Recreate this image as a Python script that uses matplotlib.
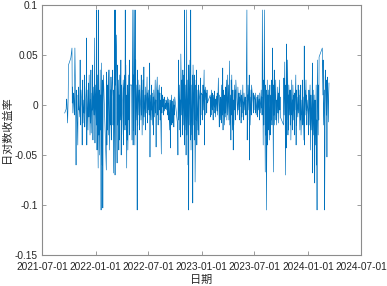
import matplotlib
matplotlib.use("Agg")
import matplotlib.pyplot as plt
import matplotlib.dates as mdates
import pandas as pd
import numpy as np

plt.rcParams['font.family'] = ['Liberation Sans', 'Noto Sans CJK SC', 'DejaVu Sans']
plt.rcParams['axes.unicode_minus'] = False

# Chinese exchange holidays (weekdays without trading)
holidays = ["2021-09-20", "2021-09-21", "2021-10-01", "2021-10-04", "2021-10-05",
            "2021-10-06", "2021-10-07", "2022-01-03", "2022-01-31", "2022-02-01",
            "2022-02-02", "2022-02-03", "2022-02-04", "2022-04-04", "2022-04-05",
            "2022-05-02", "2022-05-03", "2022-05-04", "2022-06-03", "2022-09-12",
            "2022-10-03", "2022-10-04", "2022-10-05", "2022-10-06", "2022-10-07",
            "2023-01-02", "2023-01-23", "2023-01-24", "2023-01-25", "2023-01-26",
            "2023-01-27", "2023-04-05", "2023-05-01", "2023-05-02", "2023-05-03",
            "2023-06-22", "2023-06-23", "2023-09-29", "2023-10-02", "2023-10-03",
            "2023-10-04", "2023-10-05", "2023-10-06", "2024-01-01", "2024-02-09",
            "2024-02-12", "2024-02-13", "2024-02-14", "2024-02-15", "2024-02-16"]
start_date = "2021-09-17"

# daily log returns, in thousandths, month by month
r_2021_09 = [-8, -4, 5, 6, -18, -5, 8, 40]
r_2021_10 = [47, 55, 57, 2, 18, -8, 12, 5, -10, 20, 57, -5, -60, 15, 8, -2]
r_2021_11 = [-40, 10, -5, 18, 0, -12, 45, -20, 8, 15, -3, -40, 12, 25, -18, 5, -8, 30, -22, -10, 12, 20]
r_2021_12 = [67, -40, 15, -25, 8, 22, -12, 30, -30, 5, -18, 35, -28, 12, -5, 40, -35, 18, -10, 25, 67, -38, 20]
r_2022_01 = [-20, 95, -45, 30, -63, 95, -30, 15, -50, 35, -25, 10, -105, 42, -60, 25, -103, 5, 30]
r_2022_02 = [-65, 33, -40, 20, -25, 35, -30, 10, 35, -45, 15, -20, 28, -35, 5, 30]
r_2022_03 = [35, -20, 15, -68, 10, 95, -70, 95, 20, 70, -30, -58, 40, -20, 25, -45, 10, -35, 30, -15, 45, -50, 20]
r_2022_04 = [-30, 25, -40, 15, 30, -25, 95, -20, 40, -63, 10, -35, 20, -45, 30, -15, 45, -30, 20]
r_2022_05 = [20, -35, 95, -40, 30, -25, 95, -40, 95, -30, 45, -15, 20, -105, 35, -20, 25, -10, 15]
r_2022_06 = [-25, 20, -15, 30, -10, 15, -30, 25, 5, -20, 38, -12, 10, -25, 18, 2, -8, 28, -18, 12, -5]
r_2022_07 = [15, -10, 25, 42, -52, 10, -15, 20, -5, 12, -20, 8, -30, 15, 2, -12, 25, -8, 5, -42, 10]
r_2022_08 = [28, -10, 15, -20, 8, 20, -5, 12, -15, 5, -49, 18, -8, 10, -2, 6, -10, 4, 8, -6, 2, -4, 5]
r_2022_09 = [3, -5, 8, -10, 2, -15, 6, -25, 5, -43, -8, 10, -20, 4, -12, -18, 6, -22, 0, -10, 8]
r_2022_10 = [-20, -50, 10, 45, -15, 20, -25, 5, -32, 51, -10, 25, -30, 15, 35, -20]
r_2022_11 = [30, -40, 95, -25, 20, -50, 35, 95, -30, 25, -60, 40, -105, 40, -20, 45, -35, 95, -45, 20, -30, 30]
r_2022_12 = [-98, 40, -20, 30, -35, 25, -77, 20, -15, 35, -40, 15, -25, 10, 20, -30, 5, 15, -20, 27, -10, 12]
r_2023_01 = [10, -15, 20, -5, 35, -40, 15, -10, 18, 5, 12, -8, 15, 2, 10, -12]
r_2023_02 = [8, -10, 15, -5, 12, 3, -15, 10, -2, 14, -8, 6, -12, 9, 0, -6, 12, -10, 27, 5]
r_2023_03 = [-5, -22, 10, -15, 8, 2, -18, 20, -10, 37, -25, 5, 15, -20, 10, -8, 18, -12, 25, -15, 5, 30, -10]
r_2023_04 = [20, -15, 44, -20, 10, -35, 25, -10, 30, -25, 15, -45, 5, -20, 20, -5, 15, -15, 25]
r_2023_05 = [-10, 18, -5, 12, -15, 8, -2, 15, -18, 6, 10, -12, 20, -8, 3, -15, 12, -5, 8, -10]
r_2023_06 = [5, -10, 95, -35, 10, -15, 20, -5, 30, -55, 8, -20, 15, -10, 20, 2, -8, 12, -5, 10]
r_2023_07 = [5, -8, 12, 0, -10, 8, 3, -12, 10, -5, 6, -15, 12, 2, -8, 15, -3, 8, -10, 95, -40]
r_2023_08 = [25, -20, 10, 95, -67, 20, -30, 15, -105, 25, -40, 10, -25, 15, -35, 5, 20, -30, 10, -15, 25, -20, 10]
r_2023_09 = [57, -67, 20, -10, 35, -20, 15, 25, -15, 5, -20, 10, 18, -8, 12, -18, 25, -5, 8, -12]
r_2023_10 = [-20, 27, -10, 15, 43, -70, 20, -43, 61, -15, 45, -30, 10, -25, 20, -10, 15]
r_2023_11 = [-20, 15, -35, 25, -10, 5, -25, 20, -15, 10, -30, 12, -5, 30, -40, 15, -20, 8, -12, 20, -8, 5]
r_2023_12 = [15, -25, 10, -15, 20, -30, 5, -10, 25, -20, 8, -35, 59, -40, 15, -10, 25, -5, 10, -20, 5]
r_2024_01 = [-10, -30, 15, -20, 20, -10, -45, 10, -25, 5, 42, -68, 15, -30, 10, -20, -78, 5, -40, 20, -60, -15]
r_2024_02 = [-105, 45, -30, 20, -15, 48, 57, 30, 10, 45, -20, 15, -105, -52, 28]
r_2024_03 = [35, -10, 25, -52, 20, 28, -17, 10, 22]

months = [r_2021_09, r_2021_10, r_2021_11, r_2021_12,
          r_2022_01, r_2022_02, r_2022_03, r_2022_04, r_2022_05, r_2022_06,
          r_2022_07, r_2022_08, r_2022_09, r_2022_10, r_2022_11, r_2022_12,
          r_2023_01, r_2023_02, r_2023_03, r_2023_04, r_2023_05, r_2023_06,
          r_2023_07, r_2023_08, r_2023_09, r_2023_10, r_2023_11, r_2023_12,
          r_2024_01, r_2024_02, r_2024_03]
returns = np.concatenate([np.asarray(m, dtype=float) for m in months]) / 1000.0
dates = pd.bdate_range(start=start_date, periods=len(returns), freq="C",
                       holidays=holidays)

xtick_labels = ["2021-07-01", "2022-01-01", "2022-07-01", "2023-01-01",
                "2023-07-01", "2024-01-01", "2024-07-01"]
yticks = [-0.15, -0.1, -0.05, 0, 0.05, 0.1]
ytick_labels = ["-0.15", "-0.1", "-0.05", "0", "0.05", "0.1"]

fig = plt.figure(figsize=(3.87, 2.86), dpi=100)
ax = fig.add_axes([42/387, 1-255/286, (361-42)/387, (255-5)/286])
ax.plot(dates, returns, color="#0072BD", lw=0.45)

xt = pd.to_datetime(xtick_labels)
ax.set_xlim(xt[0], xt[-1])
ax.set_xticks(xt)
ax.set_xticklabels(xtick_labels)
ax.set_ylim(-0.15, 0.1)
ax.set_yticks(yticks)
ax.set_yticklabels(ytick_labels)

edge = "#8c8c8c"
for s in ax.spines.values():
    s.set_color(edge)
    s.set_linewidth(0.8)
ax.tick_params(direction="in", length=3, width=0.6, color=edge,
               top=True, right=True, labelsize=7.3, labelcolor="#262626")
ax.tick_params(axis="x", pad=5)
ax.tick_params(axis="y", pad=3)

ax.set_xlabel("日期", family=["Noto Sans CJK SC", "DejaVu Sans"], fontsize=8,
              color="#262626", labelpad=2)
ax.set_ylabel("日对数收益率", family=["Noto Sans CJK SC", "DejaVu Sans"], fontsize=8,
              color="#262626", labelpad=2)

fig.savefig("out.png", dpi=100)
